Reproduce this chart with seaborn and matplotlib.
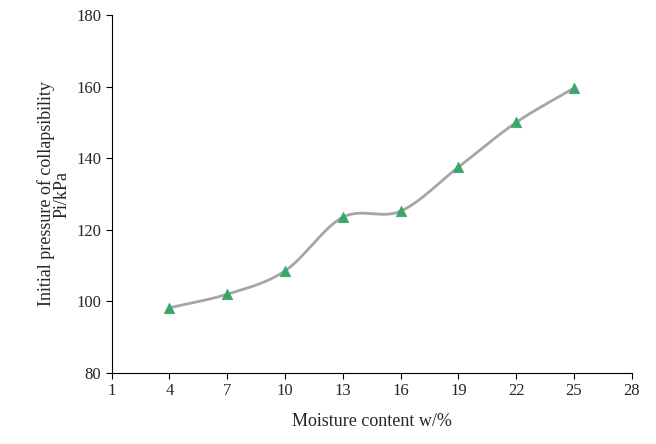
import numpy as np
import pandas as pd
import seaborn as sns
import matplotlib.pyplot as plt

moisture = [4, 7, 10, 13, 16, 19, 22, 25]
pressure = [98.2, 102.0, 108.5, 123.5, 125.2, 137.5, 150.0, 159.6]
x_ticks = [1, 4, 7, 10, 13, 16, 19, 22, 25, 28]
y_ticks = [80, 100, 120, 140, 160, 180]

sns.set_style("ticks")
plt.rcParams["font.family"] = ["Liberation Serif", "DejaVu Serif"]

df = pd.DataFrame({"w": moisture, "p": pressure})


def catmull_rom(x, y, n=30):
    # smoothed line like Excel's smooth scatter
    x = np.asarray(x, float)
    y = np.asarray(y, float)
    px = np.concatenate([[2 * x[0] - x[1]], x, [2 * x[-1] - x[-2]]])
    py = np.concatenate([[2 * y[0] - y[1]], y, [2 * y[-1] - y[-2]]])
    xs, ys = [], []
    t = np.linspace(0, 1, n)
    for i in range(1, len(px) - 2):
        for a, b in ((px, xs), (py, ys)):
            p0, p1, p2, p3 = a[i - 1], a[i], a[i + 1], a[i + 2]
            b.extend(0.5 * (2 * p1 + (-p0 + p2) * t
                            + (2 * p0 - 5 * p1 + 4 * p2 - p3) * t ** 2
                            + (-p0 + 3 * p1 - 3 * p2 + p3) * t ** 3))
    return np.array(xs), np.array(ys)


sx, sy = catmull_rom(moisture, pressure)

fig, ax = plt.subplots(figsize=(6.56, 4.44), dpi=100)
ax.plot(sx, sy, color="#a6a6a6", lw=2)
sns.scatterplot(data=df, x="w", y="p", marker="^", s=55, color="#3aa66a",
                edgecolor="#3aa66a", zorder=3, ax=ax)

ax.set_xlim(1, 28)
ax.set_ylim(80, 180)
ax.set_xticks(x_ticks)
ax.set_yticks(y_ticks)
ax.tick_params(labelsize=12, direction="out", length=4, color="black")
ax.set_xlabel("Moisture content w/%", fontsize=13, labelpad=10)
ax.set_ylabel("Initial pressure of collapsibility\nPi/kPa", fontsize=13, linespacing=0.9)
for s in ("top", "right"):
    ax.spines[s].set_visible(False)
for s in ("left", "bottom"):
    ax.spines[s].set_color("black")
    ax.spines[s].set_linewidth(0.8)

fig.subplots_adjust(left=0.17, right=0.963, top=0.966, bottom=0.16)
fig.savefig("out.png", dpi=100)
